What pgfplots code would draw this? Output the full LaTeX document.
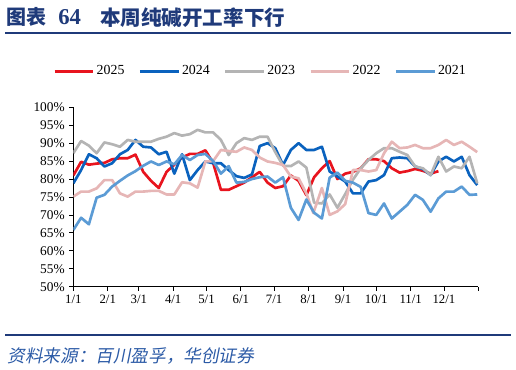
\documentclass[border=0pt]{standalone}
\usepackage{pgfplots}
\pgfplotsset{compat=1.18}
\usepackage{fontspec}
\setmainfont{Liberation Serif}
\newfontfamily\cjk{Noto Sans CJK SC}
\newfontfamily\cjkit[FakeSlant=0.2]{Noto Sans CJK SC}
\definecolor{c25}{HTML}{E8141E}
\definecolor{c24}{HTML}{0A62BE}
\definecolor{c23}{HTML}{B4B4B4}
\definecolor{c22}{HTML}{E6B6B6}
\definecolor{c21}{HTML}{5B9BD5}
\definecolor{navy}{HTML}{1F3A7A}
\definecolor{srcblue}{HTML}{2B5AA6}
\begin{document}
\begin{tikzpicture}
\useasboundingbox (0,0) rectangle (387pt,-277.5pt);
% title
\node[anchor=west,inner sep=0pt,text=navy,font=\cjk\bfseries\fontsize{15}{18}\selectfont] at (5pt,-12.9pt) {图表};
\node[anchor=west,inner sep=0pt,text=navy,font=\bfseries\fontsize{17}{18}\selectfont] at (43.5pt,-12.9pt) {64};
\node[anchor=west,inner sep=0pt,text=navy,font=\cjk\bfseries\fontsize{15.4}{18}\selectfont] at (75pt,-12.9pt) {本周纯碱开工率下行};
\draw[navy,line width=1.2pt] (3.75pt,-24.75pt) -- (383.25pt,-24.75pt);
\draw[navy,line width=1.2pt] (3.75pt,-251.25pt) -- (383.25pt,-251.25pt);
\node[anchor=west,inner sep=0pt,text=srcblue,font=\cjkit\fontsize{13.2}{15}\selectfont] at (5.5pt,-267.3pt) {资料来源：百川盈孚，华创证券};
\begin{axis}[
  at={(55pt,-215pt)}, anchor=south west,
  width=303.75pt, height=134.55pt, scale only axis,
  xmin=0, xmax=365, ymin=50, ymax=100,
  axis x line*=bottom, axis y line*=left,
  axis line style={black,line width=0.6pt},
  xtick={0,31,59,90,120,151,181,212,243,273,304,334,365},
  xticklabels={1/1,2/1,3/1,4/1,5/1,6/1,7/1,8/1,9/1,10/1,11/1,12/1,{}},
  ytick={50,55,...,100},
  yticklabel={\pgfmathprintnumber{\tick}\%},
  /pgf/number format/assume math mode=true,
  tick align=outside, major tick length=3pt,
  tick style={black,line width=0.6pt},
  ticklabel style={font=\fontsize{10}{12}\selectfont},
  x tick label style={font=\fontsize{9.6}{12}\selectfont},
  legend columns=5,
  legend style={draw=none,fill=none,at={(0.462,1.202)},anchor=center,
    font=\fontsize{10.4}{12}\selectfont,
    nodes={inner sep=1.5pt},
    /tikz/every even column/.append style={column sep=9pt}},
  legend image code/.code={\draw[#1,line width=2.2pt] (0pt,0pt) -- (29pt,0pt);},
  every axis plot/.append style={line width=2pt, line join=round, mark=none},
]
\addplot[c25] table[x expr=\thisrow{w}*7,y=v] {
w v
0 81
1 84.8
2 84
3 84.3
4 84.5
5 85.5
6 85.8
7 85.8
8 86.8
9 82
10 79.5
11 77.5
12 82
13 84
14 86
15 87
16 87
17 88
18 84.5
19 77
20 77
21 78
22 79
23 80.5
24 82
25 79
26 77.5
27 78
28 81
29 79.5
30 75.5
31 80.5
32 83
33 85
34 80
35 81.5
36 82
37 83
38 85.5
39 85.5
40 85
41 83
42 81.8
43 82.2
44 82.8
45 82.3
46 81.5
47 82.2
};
\addlegendentry{2025}
\addplot[c24] table[x expr=\thisrow{w}*7,y=v] {
w v
0 78.8
1 82.5
2 86.9
3 85.8
4 83.5
5 84.4
6 86.9
7 88.1
8 90.9
9 89
10 88.8
11 86.9
12 87.6
13 81.5
14 86.9
15 79.7
16 82.5
17 84.9
18 84.4
19 84.4
20 82.5
21 80.8
22 80.3
23 81.3
24 89.2
25 90
26 88.6
27 83.9
28 88.1
29 90
30 88.1
31 88.1
32 89
33 82.1
34 80.7
35 79.3
36 76
37 76
38 79.3
39 79.7
40 81.1
41 85.8
42 86
43 85.8
44 83.5
45 82.8
46 81.1
47 84.9
48 86.2
49 84.9
50 86.2
51 81.1
52 78.3
};
\addlegendentry{2024}
\addplot[c23] table[x expr=\thisrow{w}*7,y=v] {
w v
0 87.2
1 90.6
2 89.3
3 87.2
4 90.2
5 89.7
6 89
7 90.9
8 90.4
9 90.4
10 90.4
11 91.2
12 91.8
13 92.8
14 92.1
15 92.5
16 93.7
17 93
18 93
19 90.9
20 86.7
21 90
22 91.4
23 90.9
24 91.8
25 91.8
26 87.5
27 83.7
28 83.6
29 84.9
30 83.2
31 73.4
32 73.2
33 75.7
34 72
35 75.8
36 79.8
37 83
38 85.3
39 87.2
40 88.6
41 88.6
42 87.6
43 86.7
44 83.5
45 83
46 81.1
47 86.2
48 82.1
49 83.5
50 83
51 86.2
52 78.8
};
\addlegendentry{2023}
\addplot[c22] table[x expr=\thisrow{w}*7,y=v] {
w v
0 75.1
1 76.5
2 76.5
3 77.4
4 79.7
5 79.7
6 76
7 75.1
8 76.5
9 76.5
10 76.7
11 76.7
12 75.7
13 75.7
14 79.1
15 78.8
16 77.6
17 84.9
18 85
19 88.1
20 87.8
21 87.6
22 88.8
23 88.1
24 86
25 84.9
26 84.5
27 83.9
28 80.7
29 80.2
30 76
30.9 70.5
32 77.5
33 70
34 71
35 73
36 82.5
37 82.5
38 82.1
39 82.5
40 87.2
41 90.4
42 88.6
43 88.8
44 89.5
45 88.6
46 88.6
47 89.5
48 90.9
49 89.5
50 90.4
51 89
52 87.5
};
\addlegendentry{2022}
\addplot[c21] table[x expr=\thisrow{w}*7,y=v] {
w v
0 65.8
1 69.2
2 67.4
3 74.8
4 75.6
5 77.9
6 79.5
7 81
8 82.2
9 83.7
10 84.9
11 83.9
12 84.9
13 84.1
14 86.7
15 85.3
16 86.7
17 87
18 85
19 81.5
20 83.6
21 79
22 79.2
23 80
24 80.5
25 80.7
26 79
27 80.5
28 72
29 68.6
30 74.3
31 70.6
32 69
33 80.4
34 81.8
35 79.5
36 79
37 77.8
38 70.5
39 70
40 73.2
41 69
42 70.9
43 72.8
44 75.6
45 74.2
46 70.9
47 74.6
48 76.5
49 76.5
50 77.9
51 75.6
52 75.7
};
\addlegendentry{2021}
\end{axis}
\end{tikzpicture}
\end{document}
